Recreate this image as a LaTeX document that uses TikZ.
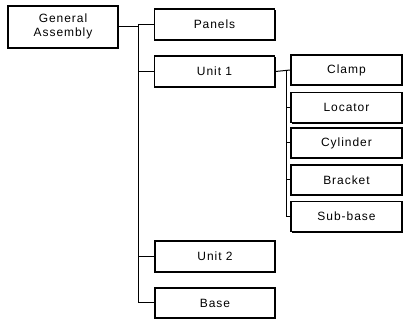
\documentclass[tikz,border=0pt]{standalone}
\usepackage{fontspec}
\setmainfont{Liberation Sans}[LetterSpace=8]
\usetikzlibrary{shadows}

\tikzset{every picture/.style={line width=0.75pt}}
\tikzset{partbox/.style={draw, fill=white, line width=1.3pt, inner sep=0pt, font=\fontsize{9}{10}\selectfont,
  drop shadow={shadow xshift=0.8pt, shadow yshift=-0.8pt, fill=black, opacity=1}}}

\begin{document}
\begin{tikzpicture}[x=0.75pt,y=0.75pt,yscale=-1,xscale=1]
\useasboundingbox (0,0) rectangle (408,320);

% Top level
\node [partbox, minimum width=82.5pt, minimum height=32pt] (ga) at (63,27) {\begin{tabular}{@{}c@{}}General\\[0pt]Assembly\end{tabular}};

% First level
\node [partbox, minimum width=90pt, minimum height=23pt] (panels) at (214.5,24.5) {Panels};
\node [partbox, minimum width=90pt, minimum height=23pt] (unit1) at (214.5,71.5) {Unit 1};
\node [partbox, minimum width=90pt, minimum height=23pt] (unit2) at (215,256.5) {Unit 2};
\node [partbox, minimum width=90pt, minimum height=23pt] (base) at (215,303) {Base};

% Second level
\node [partbox, minimum width=83pt, minimum height=22.5pt] (clamp) at (346.5,70) {Clamp};
\node [partbox, minimum width=83pt, minimum height=22.5pt] (locator) at (346.5,107.5) {Locator};
\node [partbox, minimum width=83pt, minimum height=22.5pt] (cylinder) at (346.5,143) {Cylinder};
\node [partbox, minimum width=83pt, minimum height=22.5pt] (bracket) at (346.5,180) {Bracket};
\node [partbox, minimum width=83pt, minimum height=22.5pt] (subbase) at (346.5,216.5) {Sub-base};

% Trunks
\coordinate (trunkA) at (138,0);
\coordinate (trunkB) at (286,0);

%Straight Lines
\draw (ga.east) -- (ga.east -| trunkA);
\draw (panels.west) -- (panels.west -| trunkA) |- (base.west);
\draw (unit1.west) -- (unit1.west -| trunkA);
\draw (unit2.west) -- (unit2.west -| trunkA);
%Straight Lines
\draw (unit1.east) -- (clamp.west);
\draw (clamp.west -| trunkB) |- (subbase.west);
\draw (locator.west) -- (locator.west -| trunkB);
\draw (cylinder.west) -- (cylinder.west -| trunkB);
\draw (bracket.west) -- (bracket.west -| trunkB);

\end{tikzpicture}
\end{document}
